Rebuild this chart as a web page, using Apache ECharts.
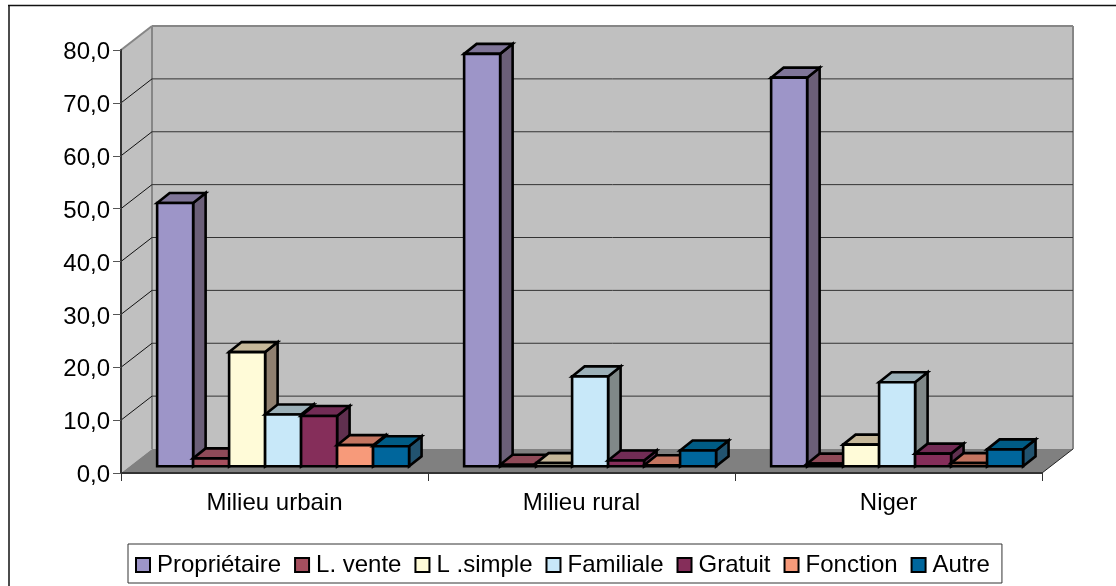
<!DOCTYPE html>
<html>
<head>
<meta charset="utf-8">
<style>
  html, body { margin: 0; padding: 0; background: #fff; }
  #chart { width: 1116px; height: 586px; }
</style>
<script src="https://cdn.jsdelivr.net/npm/echarts@6/dist/echarts.min.js"></script>
</head>
<body>
<div id="chart"></div>
<script>
const categories = ['Milieu urbain', 'Milieu rural', 'Niger'];
const seriesNames = ['Propriétaire', 'L. vente', 'L .simple', 'Familiale', 'Gratuit', 'Fonction', 'Autre'];
const proprietaire = [49.8, 78.0, 73.5];
const lVente = [1.5, 0.3, 0.5];
const lSimple = [21.6, 0.6, 4.1];
const familiale = [9.8, 17.0, 15.9];
const gratuit = [9.5, 1.1, 2.4];
const fonction = [4.0, 0.2, 0.6];
const autre = [3.8, 3.0, 3.2];
const seriesValues = [proprietaire, lVente, lSimple, familiale, gratuit, fonction, autre];
const gridTicks = [10, 20, 30, 40, 50, 60, 70];

// couleurs des faces : avant, dessus, cote
const faceColors = [
  ['#9D95C8', '#7F7598', '#6B5F78'],
  ['#A64F5E', '#8F4A58', '#7A4450'],
  ['#FFFBD8', '#C6B89A', '#908070'],
  ['#C8E8F9', '#9CB0B8', '#808888'],
  ['#852E5A', '#722C55', '#60304F'],
  ['#F79A7A', '#C47560', '#A86450'],
  ['#00669C', '#005C85', '#22536F']
];

// decalages de la perspective
const wallDx = 31, wallDy = 24;
const barPlaneDx = 8.6, barPlaneDy = 6.7;
const barDepthDx = 12.5, barDepthDy = 10;
const gapRatio = 1.53;

const chart = echarts.init(document.getElementById('chart'));

function poly(points, fill, stroke, lineWidth) {
  return {
    type: 'polygon',
    shape: { points },
    style: { fill, stroke: stroke || 'none', lineWidth: lineWidth || 0, lineJoin: 'miter' }
  };
}

function line(x1, y1, x2, y2, stroke, lineWidth) {
  return {
    type: 'line',
    shape: { x1, y1, x2, y2 },
    style: { stroke, lineWidth }
  };
}

// murs et sol
function renderWalls(params) {
  const c = params.coordSys;
  const l = c.x, r = c.x + c.width, t = c.y, b = c.y + c.height;
  const edge = '#868686';
  return {
    type: 'group',
    children: [
      poly([[l, t], [l + wallDx, t - wallDy], [l + wallDx, b - wallDy], [l, b]], '#C0C0C0'),
      poly([[l + wallDx, t - wallDy], [r + wallDx, t - wallDy], [r + wallDx, b - wallDy], [l + wallDx, b - wallDy]], '#C0C0C0'),
      poly([[l, b], [l + wallDx, b - wallDy], [r + wallDx, b - wallDy], [r, b]], '#808080'),
      line(l + wallDx, t - wallDy, l + wallDx, b - wallDy, edge, 2),
      line(l + wallDx, t - wallDy, r + wallDx, t - wallDy, edge, 2),
      line(r + wallDx, t - wallDy, r + wallDx, b - wallDy, edge, 2),
      line(l, t, l + wallDx, t - wallDy, edge, 2),
      line(r, b, r + wallDx, b - wallDy, '#222', 1)
    ]
  };
}

// lignes de quadrillage sur le mur du fond et le mur gauche
function renderGridLine(params, api) {
  const c = params.coordSys;
  const y = api.coord([categories[0], api.value(0)])[1];
  return {
    type: 'group',
    children: [
      line(c.x, y, c.x + wallDx, y - wallDy, '#111', 1),
      line(c.x + wallDx, y - wallDy, c.x + c.width + wallDx, y - wallDy, '#333', 1)
    ]
  };
}

function makeBarRenderer(idx) {
  return function (params, api) {
    const band = api.size([1, 0])[0];
    const w = band / (seriesNames.length + gapRatio);
    const center = api.coord([api.value(0), api.value(1)]);
    const base = api.coord([api.value(0), 0]);
    const x0 = center[0] - band / 2 + barPlaneDx + w * (gapRatio / 2 + idx);
    const x1 = x0 + w;
    const yTop = center[1] - barPlaneDy;
    const yBase = base[1] - barPlaneDy;
    const colors = faceColors[idx];
    const lw = 2.6;
    return {
      type: 'group',
      children: [
        poly([[x1, yBase], [x1 + barDepthDx, yBase - barDepthDy], [x1 + barDepthDx, yTop - barDepthDy], [x1, yTop]], colors[2], '#000', lw),
        poly([[x0, yTop], [x0 + barDepthDx, yTop - barDepthDy], [x1 + barDepthDx, yTop - barDepthDy], [x1, yTop]], colors[1], '#000', lw),
        poly([[x0, yBase], [x0, yTop], [x1, yTop], [x1, yBase]], colors[0], '#000', lw)
      ]
    };
  };
}

const barSeries = seriesNames.map((name, idx) => ({
  type: 'custom',
  name,
  z: 3,
  clip: false,
  renderItem: makeBarRenderer(idx),
  itemStyle: { color: faceColors[idx][0] },
  encode: { x: 0, y: 1 },
  data: seriesValues[idx].map((v, i) => [categories[i], v])
}));

chart.setOption({
  animation: false,
  backgroundColor: '#fff',
  textStyle: { fontFamily: 'Liberation Sans' },
  graphic: [
    { type: 'line', shape: { x1: 8, y1: 5.5, x2: 1116, y2: 5.5 }, style: { stroke: '#111', lineWidth: 1.5 } },
    { type: 'line', shape: { x1: 9, y1: 5, x2: 9, y2: 586 }, style: { stroke: '#111', lineWidth: 1.5 } }
  ],
  grid: { left: 121, right: 74, top: 50, bottom: 113 },
  legend: {
    data: seriesNames,
    left: 128,
    top: 544,
    width: 900,
    padding: [9, 12, 6, 7],
    borderColor: '#333',
    borderWidth: 1,
    backgroundColor: '#fff',
    itemWidth: 14,
    itemHeight: 14,
    itemGap: 13,
    icon: 'rect',
    itemStyle: { borderColor: '#000', borderWidth: 2 },
    textStyle: { fontFamily: 'Liberation Sans', fontSize: 24, color: '#000', padding: [4, 0, 0, 2] },
    selectedMode: false
  },
  xAxis: {
    type: 'category',
    data: categories,
    z: 5,
    axisLine: { lineStyle: { color: '#333', width: 2 } },
    axisTick: { show: true, length: 8, alignWithLabel: false, lineStyle: { color: '#333', width: 1 } },
    axisLabel: { fontSize: 24, color: '#000', margin: 18 }
  },
  yAxis: {
    type: 'value',
    min: 0,
    max: 80,
    interval: 10,
    z: 5,
    splitLine: { show: false },
    axisLine: { show: true, lineStyle: { color: '#333', width: 2 } },
    axisTick: { show: true, length: 8, lineStyle: { color: '#555', width: 1 } },
    axisLabel: {
      fontSize: 24,
      color: '#000',
      margin: 11,
      verticalAlign: 'top',
      lineHeight: 5,
      formatter: v => v.toFixed(1).replace('.', ',')
    }
  },
  series: [
    { type: 'custom', z: 1, silent: true, clip: false, renderItem: renderWalls, data: [[0]] },
    { type: 'custom', z: 2, silent: true, clip: false, renderItem: renderGridLine, encode: { y: 0 }, data: gridTicks.map(t => [t]) }
  ].concat(barSeries)
});

window.addEventListener('resize', () => chart.resize());
</script>
</body>
</html>
